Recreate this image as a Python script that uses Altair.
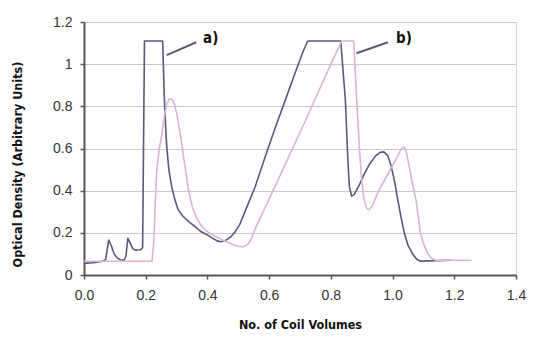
import altair as alt
import pandas as pd

# Series a) (dark)
a_x = [0.0, 0.03, 0.06, 0.07, 0.08, 0.088, 0.098, 0.108, 0.118, 0.13, 0.136, 0.142, 0.15, 0.158, 0.166,
       0.183, 0.19, 0.196, 0.255, 0.26, 0.264, 0.268, 0.275, 0.284, 0.294, 0.305, 0.32, 0.342, 0.36, 0.38,
       0.4, 0.417, 0.43, 0.443, 0.46, 0.475, 0.49, 0.505, 0.53, 0.555, 0.587, 0.62, 0.65, 0.682, 0.71,
       0.725, 0.832, 0.847, 0.855, 0.86, 0.867, 0.875, 0.89, 0.905, 0.925, 0.945, 0.96, 0.972, 0.985,
       0.996, 1.007, 1.017, 1.028, 1.038, 1.05, 1.065, 1.078, 1.09, 1.19]
a_y = [0.055, 0.058, 0.065, 0.072, 0.166, 0.14, 0.1, 0.08, 0.072, 0.07, 0.09, 0.174, 0.15, 0.125, 0.118,
       0.12, 0.13, 1.11, 1.11, 0.85, 0.72, 0.61, 0.5, 0.42, 0.36, 0.31, 0.28, 0.25, 0.23, 0.205,
       0.19, 0.174, 0.163, 0.158, 0.165, 0.18, 0.205, 0.24, 0.33, 0.42, 0.56, 0.7, 0.82, 0.95, 1.06,
       1.11, 1.11, 0.83, 0.55, 0.42, 0.375, 0.38, 0.42, 0.47, 0.525, 0.565, 0.582, 0.584, 0.565,
       0.513, 0.44, 0.355, 0.27, 0.2, 0.14, 0.1, 0.075, 0.066, 0.07]

# Series b) (pink)
b_x = [0.0, 0.22, 0.226, 0.231, 0.236, 0.244, 0.252, 0.26, 0.268, 0.276, 0.285, 0.293, 0.3, 0.308, 0.315,
       0.321, 0.33, 0.337, 0.345, 0.353, 0.365, 0.38, 0.4, 0.417, 0.449, 0.486, 0.5, 0.512, 0.524, 0.534,
       0.545, 0.555, 0.6, 0.66, 0.72, 0.8, 0.835, 0.874, 0.883, 0.893, 0.9, 0.907, 0.916, 0.925, 0.935,
       0.955, 0.98, 1.0, 1.015, 1.028, 1.038, 1.046, 1.054, 1.065, 1.076, 1.084, 1.09, 1.1, 1.113,
       1.126, 1.14, 1.256]
b_y = [0.065, 0.065, 0.15, 0.35, 0.5, 0.6, 0.665, 0.75, 0.81, 0.835, 0.835, 0.81, 0.77, 0.7, 0.64,
       0.577, 0.49, 0.418, 0.36, 0.315, 0.27, 0.235, 0.205, 0.19, 0.166, 0.142, 0.136, 0.134, 0.138, 0.15,
       0.18, 0.22, 0.36, 0.55, 0.74, 1.0, 1.11, 1.11, 0.85, 0.59, 0.45, 0.36, 0.315, 0.31, 0.33,
       0.4, 0.466, 0.52, 0.56, 0.598, 0.608, 0.575, 0.513, 0.43, 0.355, 0.27, 0.2, 0.15, 0.104,
       0.08, 0.07, 0.07]

# Annotations
labels = ["a)", "b)"]
label_x = [0.386, 1.011]
label_y = [1.125, 1.125]
ptr_x1 = [0.268, 0.883]
ptr_y1 = [1.043, 1.052]
ptr_x2 = [0.364, 0.985]
ptr_y2 = [1.104, 1.104]

rows = []
for i, (x, y) in enumerate(zip(a_x, a_y)):
    rows.append({"x": x, "y": y, "s": "a", "i": i})
for i, (x, y) in enumerate(zip(b_x, b_y)):
    rows.append({"x": x, "y": y, "s": "b", "i": i})
df = pd.DataFrame(rows)

ann = pd.DataFrame({"t": labels, "x": label_x, "y": label_y,
                    "x1": ptr_x1, "y1": ptr_y1, "x2": ptr_x2, "y2": ptr_y2})

narrow = "Liberation Sans Narrow, DejaVu Sans Condensed, Arial Narrow, sans-serif"

xs = alt.Scale(domain=[0, 1.4], nice=False)
ys = alt.Scale(domain=[0, 1.2], nice=False)

lines = alt.Chart(df).mark_line(strokeWidth=1.6, strokeJoin="round").encode(
    x=alt.X("x:Q", scale=xs, axis=alt.Axis(
        title="No. of Coil Volumes", values=[0, 0.2, 0.4, 0.6, 0.8, 1.0, 1.2, 1.4], format=".1f",
        grid=False, tickSize=4, labelPadding=9, titlePadding=16, labelFlush=False)),
    y=alt.Y("y:Q", scale=ys, axis=alt.Axis(
        title="Optical Density (Arbitrary Units)", values=[0, 0.2, 0.4, 0.6, 0.8, 1.0, 1.2], format="~g",
        grid=True, tickSize=4, labelPadding=8, titleX=-67, titleY=142, titleBaseline="middle",
        labelFlush=False)),
    color=alt.Color("s:N", scale=alt.Scale(domain=["b", "a"], range=["#dcb2da", "#58597f"]), legend=None),
    order=alt.Order("i:Q"),
    detail="s:N",
)

ptrs = alt.Chart(ann).mark_rule(color="#5a5c78", strokeWidth=2).encode(
    x="x1:Q", y="y1:Q", x2="x2:Q", y2="y2:Q")

txt = alt.Chart(ann).mark_text(align="left", baseline="middle", font=narrow, fontWeight="bold",
                               fontSize=15, color="#111").encode(
    x="x:Q", y="y:Q", text="t:N")

chart = alt.layer(lines, ptrs, txt).properties(
    width=432, height=253,
    autosize=alt.AutoSizeParams(type="none"),
    padding={"left": 76, "top": 14, "right": 12, "bottom": 58},
).configure_view(stroke="#d4d4d4", strokeWidth=1).configure_axis(
    domainColor="#555", domainWidth=2, tickColor="#555", tickWidth=1.5,
    gridColor="#c8c8c8", gridWidth=1,
    labelFont="Liberation Sans", labelFontSize=14, labelColor="#333",
    titleFont=narrow, titleFontSize=12.5, titleFontWeight="bold", titleColor="#111",
)

chart.save("out.html", embed_options={"renderer": "svg", "actions": False})
